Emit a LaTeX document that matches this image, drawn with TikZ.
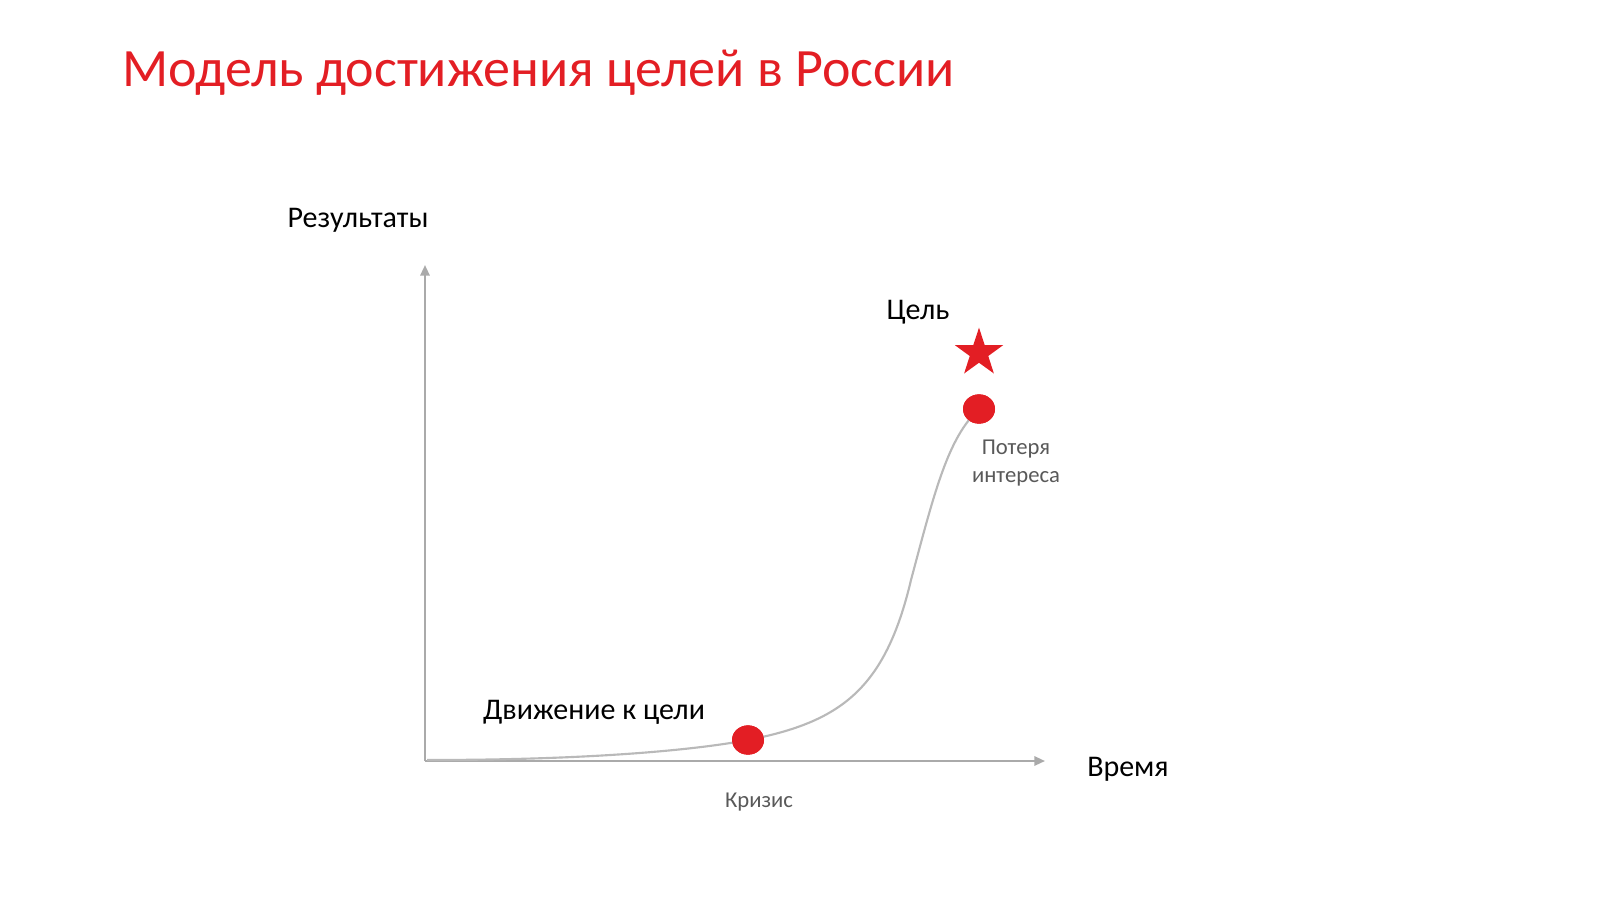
\documentclass[tikz,border=0pt]{standalone}
\usepackage{fontspec}
\setmainfont{Carlito}
\usetikzlibrary{shapes.geometric,arrows.meta}

\definecolor{goalRed}{RGB}{227,30,36}
\definecolor{axisGray}{RGB}{170,170,170}
\definecolor{curveGray}{RGB}{185,185,185}
\definecolor{noteGray}{RGB}{89,89,89}

\tikzset{
    bigLabel/.style = {font=\fontsize{22.5}{27}\selectfont, text=black, inner sep=0pt},
    smallLabel/.style = {font=\fontsize{17}{21}\selectfont, text=noteGray, inner sep=0pt, align=center},
    axisLine/.style = {draw=axisGray, line width=1.6pt, -{Triangle[length=8pt, width=7pt]}},
    growthCurve/.style = {draw=curveGray, line width=1.6pt},
    stageDot/.style = {ellipse, fill=goalRed, inner sep=0pt, minimum width=24pt, minimum height=22pt}
}

\begin{document}
\begin{tikzpicture}[x=0.75pt, y=-0.75pt]

    % canvas, 1600 x 900 px
    \useasboundingbox (0,0) rectangle (1600,900);

    \def\originX{425}
    \def\originY{761}

    % title
    \node[anchor=west, text=goalRed, font=\fontsize{40.5}{48}\selectfont, inner sep=0pt] (title) at (122,73) {Модель достижения целей в России};

    %% axes
    \coordinate (origin) at (\originX,\originY);
    \coordinate (yEnd) at (\originX,265);
    \coordinate (xEnd) at (1045,\originY);

    \draw[axisLine] (origin) -- (yEnd);
    \draw[axisLine] (origin) -- (xEnd);

    \node[bigLabel] (results) at (358,220) {Результаты};
    \node[bigLabel] (time) at (1128,769) {Время};

    % curve
    \coordinate (curveStart) at (427,760);
    \coordinate (bend) at (911,580);
    \node[stageDot] (crisis) at (748,740) {};
    \node[stageDot] (loss) at (979,409) {};

    \draw[growthCurve] (curveStart) .. controls (600,760) and (700,749) .. (crisis.center)
        .. controls (840,722) and (885,690) .. (bend)
        .. controls (935,490) and (948,438) .. (loss.center);

    % redraw dots over the curve
    \node[stageDot] at (crisis) {};
    \node[stageDot] at (loss) {};

    % goal
    \node[star, star points=5, star point ratio=2.6, fill=goalRed, inner sep=0pt, minimum size=38pt] (goal) at (979,353) {};

    \node[bigLabel] (goalLabel) at (918,312) {Цель};
    \node[bigLabel] (move) at (594,712) {Движение к цели};
    \node[smallLabel] (lossLabel) at (1016,463) {Потеря\\интереса};
    \node[smallLabel] (crisisLabel) at (759,802) {Кризис};

\end{tikzpicture}
\end{document}
